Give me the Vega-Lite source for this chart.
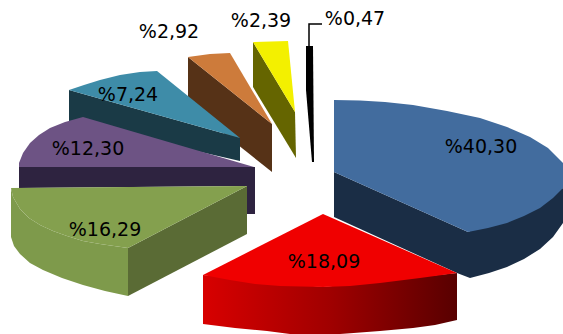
{"$schema":"https://vega.github.io/schema/vega-lite/v6.json","width":563,"height":334,"padding":0,"autosize":{"type":"none"},"background":"white","view":{"stroke":null},
"datasets":{"shapes":[
{"p":"blackSide","x":306,"y":46},{"p":"blackSide","x":313,"y":46},{"p":"blackSide","x":314,"y":162},{"p":"blackSide","x":312,"y":162},{"p":"blackSide","x":306,"y":90},
{"p":"yellowSide","x":253,"y":42},{"p":"yellowSide","x":295,"y":112},{"p":"yellowSide","x":296,"y":158},{"p":"yellowSide","x":253,"y":87},
{"p":"yellowTop","x":253,"y":42},{"p":"yellowTop","x":288,"y":41},{"p":"yellowTop","x":295,"y":112},
{"p":"orangeSide","x":188,"y":57},{"p":"orangeSide","x":272,"y":124},{"p":"orangeSide","x":272,"y":172},{"p":"orangeSide","x":188,"y":105},
{"p":"orangeTop","x":188,"y":57},{"p":"orangeTop","x":210,"y":54},{"p":"orangeTop","x":230,"y":53},{"p":"orangeTop","x":272,"y":124},
{"p":"tealSide","x":69,"y":90},{"p":"tealSide","x":240,"y":138},{"p":"tealSide","x":240,"y":161},{"p":"tealSide","x":69,"y":122},
{"p":"tealTop","x":69,"y":90},{"p":"tealTop","x":84,"y":85},{"p":"tealTop","x":100,"y":80},{"p":"tealTop","x":120,"y":75},{"p":"tealTop","x":140,"y":72},{"p":"tealTop","x":157,"y":71},{"p":"tealTop","x":240,"y":138},
{"p":"purpleSide","x":19,"y":167},{"p":"purpleSide","x":255,"y":167},{"p":"purpleSide","x":255,"y":214},{"p":"purpleSide","x":247,"y":214},{"p":"purpleSide","x":247,"y":186},{"p":"purpleSide","x":19,"y":188},
{"p":"purpleTop","x":83,"y":117},{"p":"purpleTop","x":65,"y":122},{"p":"purpleTop","x":50,"y":128},{"p":"purpleTop","x":39,"y":135},{"p":"purpleTop","x":30,"y":143},{"p":"purpleTop","x":23,"y":153},{"p":"purpleTop","x":19,"y":163},{"p":"purpleTop","x":19,"y":167},{"p":"purpleTop","x":254,"y":167},
{"p":"greenRim","x":11,"y":188},{"p":"greenRim","x":13,"y":197},{"p":"greenRim","x":20,"y":209},{"p":"greenRim","x":29,"y":218},{"p":"greenRim","x":40,"y":225},{"p":"greenRim","x":53,"y":231},{"p":"greenRim","x":67,"y":236},{"p":"greenRim","x":83,"y":241},{"p":"greenRim","x":100,"y":244},{"p":"greenRim","x":128,"y":248},{"p":"greenRim","x":128,"y":296},{"p":"greenRim","x":105,"y":291},{"p":"greenRim","x":83,"y":285},{"p":"greenRim","x":62,"y":278},{"p":"greenRim","x":43,"y":270},{"p":"greenRim","x":30,"y":263},{"p":"greenRim","x":20,"y":254},{"p":"greenRim","x":14,"y":246},{"p":"greenRim","x":11,"y":237},
{"p":"greenSide","x":128,"y":248},{"p":"greenSide","x":247,"y":186},{"p":"greenSide","x":247,"y":234},{"p":"greenSide","x":128,"y":296},
{"p":"greenTop","x":11,"y":188},{"p":"greenTop","x":247,"y":186},{"p":"greenTop","x":128,"y":248},{"p":"greenTop","x":100,"y":244},{"p":"greenTop","x":83,"y":241},{"p":"greenTop","x":67,"y":236},{"p":"greenTop","x":53,"y":231},{"p":"greenTop","x":40,"y":225},{"p":"greenTop","x":29,"y":218},{"p":"greenTop","x":20,"y":209},{"p":"greenTop","x":13,"y":197},
{"p":"blueSide","x":334,"y":172},{"p":"blueSide","x":468,"y":232},{"p":"blueSide","x":563,"y":188},{"p":"blueSide","x":563,"y":223},{"p":"blueSide","x":553,"y":237},{"p":"blueSide","x":540,"y":249},{"p":"blueSide","x":524,"y":259},{"p":"blueSide","x":507,"y":267},{"p":"blueSide","x":489,"y":273},{"p":"blueSide","x":470,"y":278},{"p":"blueSide","x":457,"y":273},{"p":"blueSide","x":334,"y":217},
{"p":"blueTop","x":334,"y":100},{"p":"blueTop","x":360,"y":100.5},{"p":"blueTop","x":385,"y":102},{"p":"blueTop","x":413,"y":105},{"p":"blueTop","x":447,"y":111},{"p":"blueTop","x":480,"y":118},{"p":"blueTop","x":507,"y":127},{"p":"blueTop","x":530,"y":137},{"p":"blueTop","x":548,"y":148},{"p":"blueTop","x":563,"y":163},{"p":"blueTop","x":563,"y":188},{"p":"blueTop","x":553,"y":198},{"p":"blueTop","x":540,"y":208},{"p":"blueTop","x":524,"y":216},{"p":"blueTop","x":507,"y":223},{"p":"blueTop","x":488,"y":228},{"p":"blueTop","x":468,"y":232},{"p":"blueTop","x":334,"y":172},
{"p":"redSide","x":203,"y":275},{"p":"redSide","x":323,"y":287},{"p":"redSide","x":457,"y":273},{"p":"redSide","x":457,"y":320},{"p":"redSide","x":435,"y":325},{"p":"redSide","x":413,"y":328},{"p":"redSide","x":380,"y":331},{"p":"redSide","x":347,"y":333.5},{"p":"redSide","x":340,"y":334},{"p":"redSide","x":290,"y":334},{"p":"redSide","x":267,"y":331},{"p":"redSide","x":235,"y":328},{"p":"redSide","x":203,"y":324},
{"p":"redTop","x":323,"y":214},{"p":"redTop","x":457,"y":273},{"p":"redTop","x":420,"y":278},{"p":"redTop","x":380,"y":283},{"p":"redTop","x":350,"y":286},{"p":"redTop","x":323,"y":287},{"p":"redTop","x":280,"y":286},{"p":"redTop","x":255,"y":284},{"p":"redTop","x":230,"y":280},{"p":"redTop","x":203,"y":275}
],
"leader":[{"x":309,"y":46},{"x":309,"y":24},{"x":322,"y":24}],
"labels":[{"t":"%40,30","x":481,"y":147},{"t":"%18,09","x":324,"y":262},{"t":"%16,29","x":105,"y":230},{"t":"%12,30","x":88,"y":149},{"t":"%7,24","x":128,"y":95},{"t":"%2,92","x":169,"y":32},{"t":"%2,39","x":261,"y":21},{"t":"%0,47","x":355,"y":19}]},
"layer":[
{"data":{"name":"shapes"},"transform":[{"filter":"datum.p!='redSide'&&datum.p!='redTop'"}],
"mark":{"type":"line","filled":true,"strokeWidth":0},
"encoding":{"x":{"field":"x","type":"quantitative","scale":{"domain":[0,563]},"axis":null},"y":{"field":"y","type":"quantitative","scale":{"domain":[334,0]},"axis":null},"detail":{"field":"p"},"order":{"value":null},
"color":{"field":"p","type":"nominal","legend":null,"sort":null,"scale":{"domain":["blackSide","yellowSide","yellowTop","orangeSide","orangeTop","tealSide","tealTop","purpleSide","purpleTop","greenRim","greenSide","greenTop","blueSide","blueTop"],"range":["#000000","#656500","#f3f000","#563217","#cd7b3b","#1a3a46","#3e8ca8","#2e2340","#6d5384","#7e9a4b","#5a6b35","#84a04e","#1a2d45","#426c9e"]}}}},
{"data":{"name":"shapes"},"transform":[{"filter":"datum.p=='redSide'"}],
"mark":{"type":"line","strokeWidth":0,"fill":{"gradient":"linear","x1":0,"y1":0,"x2":1,"y2":0,"stops":[{"offset":0,"color":"#d80000"},{"offset":0.5,"color":"#a00000"},{"offset":1,"color":"#580000"}]}},
"encoding":{"x":{"field":"x","type":"quantitative","scale":{"domain":[0,563]},"axis":null},"y":{"field":"y","type":"quantitative","scale":{"domain":[334,0]},"axis":null},"order":{"value":null}}},
{"data":{"name":"shapes"},"transform":[{"filter":"datum.p=='redTop'"}],
"mark":{"type":"line","strokeWidth":0,"fill":"#f00000"},
"encoding":{"x":{"field":"x","type":"quantitative","scale":{"domain":[0,563]},"axis":null},"y":{"field":"y","type":"quantitative","scale":{"domain":[334,0]},"axis":null},"order":{"value":null}}},
{"data":{"name":"leader"},"mark":{"type":"line","color":"#000000","strokeWidth":1.5},
"encoding":{"x":{"field":"x","type":"quantitative","scale":{"domain":[0,563]},"axis":null},"y":{"field":"y","type":"quantitative","scale":{"domain":[334,0]},"axis":null},"order":{"value":null}}},
{"data":{"name":"labels"},"mark":{"type":"text","font":"DejaVu Sans","fontSize":19,"color":"#000000","align":"center","baseline":"middle"},
"encoding":{"x":{"field":"x","type":"quantitative","scale":{"domain":[0,563]},"axis":null},"y":{"field":"y","type":"quantitative","scale":{"domain":[334,0]},"axis":null},"text":{"field":"t"}}}
]}
